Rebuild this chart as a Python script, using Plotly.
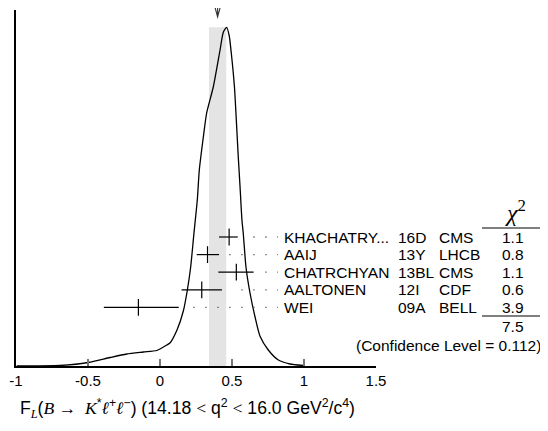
import plotly.graph_objects as go

# ---- data ----
names = ["KHACHATRY...", "AAIJ", "CHATRCHYAN", "AALTONEN", "WEI"]
years = ["16D", "13Y", "13BL", "12I", "09A"]
experiments = ["CMS", "LHCB", "CMS", "CDF", "BELL"]
chi2_vals = ["1.1", "0.8", "1.1", "0.6", "3.9"]
values = [0.48, 0.33, 0.53, 0.29, -0.15]
err_plus = [0.06, 0.08, 0.12, 0.14, 0.28]
err_minus = [0.07, 0.075, 0.125, 0.14, 0.24]
chi2_total = "7.5"
confidence_level = "0.112"
mean_value = 0.40
mean_error = 0.06

# ideogram curve (x value, height in arbitrary units)
curve_x = [-0.995, -0.694, -0.498, -0.347, -0.231, -0.116, -0.023, 0.047, 0.069,
           0.118, 0.162, 0.190, 0.213, 0.236, 0.259, 0.273, 0.301, 0.324, 0.370,
           0.417, 0.440, 0.463, 0.481, 0.495, 0.517, 0.530, 0.542, 0.556, 0.569,
           0.578, 0.597, 0.625, 0.660, 0.694, 0.752, 0.822, 0.903, 0.993]
curve_h = [0, 0.5, 3.5, 8.5, 12, 14, 15.5, 21, 23,
           36, 55, 76, 99, 133, 166, 196, 229, 253, 279,
           316, 334, 338.7, 330, 313, 279, 246, 213, 179, 146,
           133, 99, 73, 49, 30, 16, 6, 2, 0.5]

tick_vals = [-1, -0.5, 0, 0.5, 1, 1.5]
tick_text = ["-1", "-0.5", "0", "0.5", "1", "1.5"]

# ---- layout helpers (pixel geometry of the 548x431 window) ----
PAGE_OFFSET = 8          # default body margin of the html page
W, H = 548, 431
L_PX, R_PX, T_PX, B_PX = 16, 376, 10, 366   # plot area in window pixels
X_RANGE = [-1, 1.5]
PLOT_W = R_PX - L_PX
PLOT_H = B_PX - T_PX
PX_PER_UNIT = PLOT_W / (X_RANGE[1] - X_RANGE[0])


def px2val(px):
    return X_RANGE[0] + (px - L_PX) / PX_PER_UNIT


def px2paper(px):
    return (px - L_PX) / PLOT_W


def py2h(py):
    return B_PX - py


def py2paper(py):
    return (B_PX - py) / PLOT_H


FONT = "Liberation Sans, Arial, Helvetica, sans-serif"
SERIF = "Liberation Serif"
TXT = 15.5
row_h = [py2h(237 + i * 17.6) for i in range(len(names))]

fig = go.Figure()

# mean band
fig.add_shape(type="rect", xref="x", yref="y",
              x0=mean_value - mean_error, x1=mean_value + mean_error,
              y0=0, y1=max(curve_h), fillcolor="#e4e4e4", line_width=0,
              layer="below")

# ideogram curve
fig.add_trace(go.Scatter(x=curve_x, y=curve_h, mode="lines",
                         line=dict(color="black", width=1.3, shape="spline",
                                   smoothing=0.6),
                         hoverinfo="skip", showlegend=False))

# dotted leaders
grid_start = px2val(193.3)
step = 12 / PX_PER_UNIT
leader_end = px2val(278)
for v, ep, yy in zip(values, err_plus, row_h):
    bar_end = v + ep + 10 / PX_PER_UNIT
    k = 0
    while grid_start + k * step < bar_end:
        k += 1
    start = grid_start + k * step
    fig.add_trace(go.Scatter(x=[start, leader_end], y=[yy, yy], mode="lines",
                             line=dict(color="#555555", width=1.3,
                                       dash="1.3px,10.7px"),
                             hoverinfo="skip", showlegend=False))

# measurements
fig.add_trace(go.Scatter(
    x=values, y=row_h, mode="markers",
    marker=dict(symbol="line-ns-open", size=12, color="black",
                line=dict(color="black", width=1.2)),
    error_x=dict(type="data", symmetric=False, array=err_plus,
                 arrayminus=err_minus, width=0, thickness=1.2, color="black"),
    hoverinfo="skip", showlegend=False))

annotations = []
for i, yy in enumerate(row_h):
    annotations.append(dict(x=px2paper(282), y=yy, xref="paper", yref="y",
                            text=names[i], xanchor="left", showarrow=False))
    annotations.append(dict(x=px2paper(396), y=yy, xref="paper", yref="y",
                            text=years[i], xanchor="left", showarrow=False))
    annotations.append(dict(x=px2paper(437), y=yy, xref="paper", yref="y",
                            text=experiments[i], xanchor="left", showarrow=False))
    annotations.append(dict(x=px2paper(513), y=yy, xref="paper", yref="y",
                            text=chi2_vals[i], xanchor="center", showarrow=False))

annotations.append(dict(x=px2paper(515), y=py2h(211), xref="paper", yref="y",
                        text="<i>χ</i><sup>2</sup>", xanchor="center",
                        showarrow=False, font=dict(size=24, family=SERIF)))
annotations.append(dict(x=px2paper(513), y=py2h(326), xref="paper", yref="y",
                        text=chi2_total, xanchor="center", showarrow=False))
annotations.append(dict(x=px2paper(543), y=py2h(345), xref="paper", yref="y",
                        text="(Confidence Level = " + confidence_level + ")",
                        xanchor="right", showarrow=False))


def serif(s):
    return f'<span style="font-family:{SERIF}">{s}</span>'


title_txt = ("F<sub>" + serif("<i>L</i>") + "</sub>(" + serif("<i>B</i> →  <i>K</i>")
             + "<sup>*</sup>" + serif("<i>ℓ</i>") + "<sup>+</sup>" + serif("<i>ℓ</i>")
             + "<sup>−</sup>) (14.18 " + serif("&lt;") + " q<sup>2</sup> "
             + serif("&lt;") + " 16.0 GeV<sup>2</sup>/c<sup>4</sup>)")
annotations.append(dict(x=px2paper(18), y=py2paper(408), xref="paper",
                        yref="paper", text=title_txt, xanchor="left",
                        yanchor="middle", showarrow=False, font=dict(size=17.6)))

# underlines of chi2 column
for py in (228, 316):
    fig.add_shape(type="line", xref="paper", yref="y",
                  x0=px2paper(482), x1=px2paper(543), y0=py2h(py), y1=py2h(py),
                  line=dict(color="black", width=1.2))

# arrow marking the mean (above the plot)
ax = mean_value
half = 3.5 / PX_PER_UNIT
y_top, y_tip, y_arm = py2paper(0), py2paper(17), py2paper(4)
fig.add_shape(type="path", xref="x", yref="paper",
              path=(f"M {ax},{y_top} L {ax},{y_tip} "
                    f"M {ax - half},{y_arm} L {ax},{y_tip} L {ax + half},{y_arm}"),
              line=dict(color="#333333", width=1.1))

fig.update_layout(
    width=W - PAGE_OFFSET, height=H - PAGE_OFFSET,
    margin=dict(l=L_PX - PAGE_OFFSET, r=W - R_PX,
                t=T_PX - PAGE_OFFSET, b=H - B_PX),
    paper_bgcolor="white", plot_bgcolor="white",
    font=dict(family=FONT, size=TXT, color="black"),
    showlegend=False,
    annotations=annotations,
    xaxis=dict(range=X_RANGE, tickvals=tick_vals, ticktext=tick_text,
               ticks="inside", ticklen=7, tickcolor="#777777", tickwidth=1.5,
               showline=True, linecolor="black", linewidth=1.5,
               showgrid=False, zeroline=False, fixedrange=True,
               tickfont=dict(size=15)),
    yaxis=dict(range=[0, PLOT_H], showline=True, linecolor="black",
               linewidth=1.5, showticklabels=False, ticks="",
               showgrid=False, zeroline=False, fixedrange=True),
)

fig.write_html("out.html")
